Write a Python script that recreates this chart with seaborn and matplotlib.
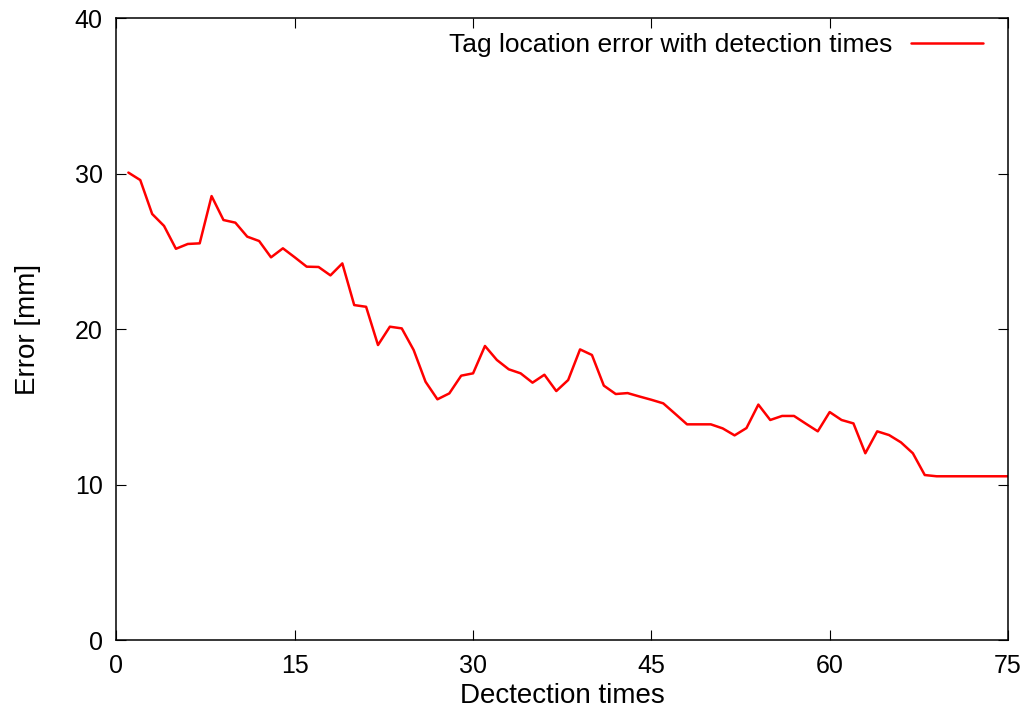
import numpy as np
import pandas as pd
import matplotlib
matplotlib.use("Agg")
import matplotlib.pyplot as plt
import seaborn as sns

# Detection count (1..75) and the corresponding tag location error in mm
detection_times = list(range(1, 76))
error_mm = [
    30.06, 29.58, 27.40, 26.63, 25.16, 25.47, 25.51, 28.55, 27.01, 26.84,
    25.94, 25.66, 24.61, 25.19, 24.61, 24.01, 23.99, 23.45, 24.22, 21.54,
    21.43, 18.97, 20.15, 20.04, 18.65, 16.61, 15.48, 15.86, 17.00, 17.15,
    18.91, 18.01, 17.41, 17.15, 16.55, 17.06, 16.01, 16.72, 18.69, 18.33,
    16.36, 15.82, 15.88, 15.66, 15.45, 15.22, 14.55, 13.87, 13.87, 13.87,
    13.61, 13.16, 13.63, 15.14, 14.15, 14.41, 14.41, 13.91, 13.42, 14.66,
    14.15, 13.93, 12.01, 13.42, 13.18, 12.71, 12.01, 10.61, 10.53, 10.53,
    10.53, 10.53, 10.53, 10.53, 10.53,
]
series_label = "Tag location error with detection times"
x_ticks = [0, 15, 30, 45, 60, 75]
y_ticks = [0, 10, 20, 30, 40]

df = pd.DataFrame({"Dectection times": detection_times, "Error [mm]": error_mm})

sns.set_theme(style="ticks")
plt.rcParams["font.family"] = ["Liberation Sans", "DejaVu Sans"]
plt.rcParams["text.color"] = "black"
plt.rcParams["axes.labelcolor"] = "black"

fig = plt.figure(figsize=(10.30, 7.24), dpi=100)
ax = fig.add_axes([0.1131, 0.116, 0.8655, 0.8591])

sns.lineplot(data=df, x="Dectection times", y="Error [mm]", ax=ax,
             color="#ff0000", linewidth=1.8, label=series_label)

ax.set_xlim(0, 75)
ax.set_ylim(0, 40)
ax.set_xticks(x_ticks)
ax.set_yticks(y_ticks)

for side in ["top", "right", "bottom", "left"]:
    ax.spines[side].set_visible(True)
    ax.spines[side].set_linewidth(1.1)
    ax.spines[side].set_color("black")

ax.tick_params(direction="in", length=7, width=0.8, top=True, right=True,
               labelsize=18, pad=10, colors="black")
ax.set_xlabel("Dectection times", fontsize=20, labelpad=4, color="black")
ax.set_ylabel("Error [mm]", fontsize=20, labelpad=24, color="black")

leg = ax.legend(loc="upper right", frameon=False, markerfirst=False,
                fontsize=19, handlelength=2.75, handletextpad=0.7,
                borderaxespad=0.3, bbox_to_anchor=(0.993, 1.006))
for t in leg.get_texts():
    t.set_color("black")

fig.savefig("out.png", dpi=100)
